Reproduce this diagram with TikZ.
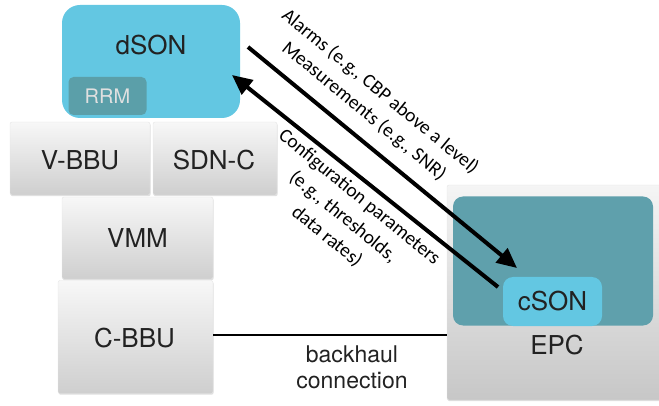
\documentclass[tikz,border=0pt]{standalone}
\usepackage{fontspec}
\setmainfont{TeX Gyre Heros}
\newfontfamily\calib{Carlito}
\usetikzlibrary{arrows.meta,shadows}
\definecolor{dsoncol}{HTML}{63C7E2}
\definecolor{tealcol}{HTML}{5FA0AC}
\definecolor{rrmcol}{HTML}{5B9BA3}
\definecolor{txtcol}{HTML}{222222}
\begin{document}
\begin{tikzpicture}[x=1pt,y=-1pt,
  graybox/.style={rounded corners=2pt, draw=black!10, line width=0.4pt,
    top color=black!3, bottom color=black!19, inner sep=0pt,
    drop shadow={shadow xshift=0.6pt,shadow yshift=-1.2pt,opacity=0.25}},
  lbl/.style={text=txtcol, font=\fontsize{26}{30}\selectfont, inner sep=0pt, anchor=base},
  arr/.style={line width=4pt, -{Triangle[length=20pt,width=18pt]}},
  note/.style={font=\calib\fontsize{19.5}{25.5}\selectfont, align=center, rotate=-39.4, inner sep=0pt}
]
\useasboundingbox (0,0) rectangle (659,406);
% left stack
\node[graybox, minimum width=140, minimum height=73] (vbbu) at (80,158.5) {};
\node[graybox, minimum width=124, minimum height=73] (sdnc) at (215,158.5) {};
\node[graybox, minimum width=151, minimum height=82] (vmm) at (137.5,238) {};
\node[graybox, minimum width=155, minimum height=113] (cbbu) at (135.5,337) {};
% dSON
\node[fill=dsoncol, rounded corners=18pt, minimum width=178, minimum height=113, inner sep=0pt] (dson) at (151,61.5) {};
\node[fill=rrmcol, fill opacity=0.9, rounded corners=5pt, minimum width=78, minimum height=38, inner sep=0pt] (rrm) at (107.5,96) {};
% EPC
\node[graybox, minimum width=214, minimum height=215, top color=black!4, bottom color=black!22] (epc) at (554,292.5) {};
\node[fill=tealcol, rounded corners=10pt, minimum width=200, minimum height=129, inner sep=0pt] (core) at (553,261) {};
\node[fill=dsoncol, rounded corners=10pt, minimum width=99, minimum height=49, inner sep=0pt] (cson) at (552.5,301.5) {};
% labels
\node[lbl] (tdson) at (151,55) {dSON};
\node[lbl, text=black!12, font=\fontsize{20}{24}\selectfont] (trrm) at (107.5,104) {RRM};
\node[lbl] (tvbbu) at (80,170) {V-BBU};
\node[lbl] (tsdnc) at (214,170) {SDN-C};
\node[lbl] (tvmm) at (137.5,248) {VMM};
\node[lbl] (tcbbu) at (134.5,347) {C-BBU};
\node[lbl] (tcson) at (552.5,311) {cSON};
\node[lbl] (tepc) at (557,354) {EPC};
\node[lbl, font=\fontsize{23}{28}\selectfont] (tback) at (352,362) {backhaul};
\node[lbl, font=\fontsize{23}{28}\selectfont] (tconn) at (352,388) {connection};
% backhaul line
\draw[line width=1.6pt] (cbbu.east |- 0,335) -- (epc.west |- 0,335);
% arrows
\coordinate (a1s) at (248,47);
\coordinate (a1e) at (517,268);
\coordinate (a2s) at (498,287);
\coordinate (a2e) at (232,75);
\draw[arr] (a1s) -- (a1e);
\draw[arr] (a2s) -- (a2e);
\node[note] (n1) at (372,101.5) {Alarms (e.g., CBP above a level)\\Measurements (e.g., SNR)};
\node[note] (n2) at (343,217) {Configuration parameters\\(e.g., thresholds,\\data rates)};
\end{tikzpicture}
\end{document}
